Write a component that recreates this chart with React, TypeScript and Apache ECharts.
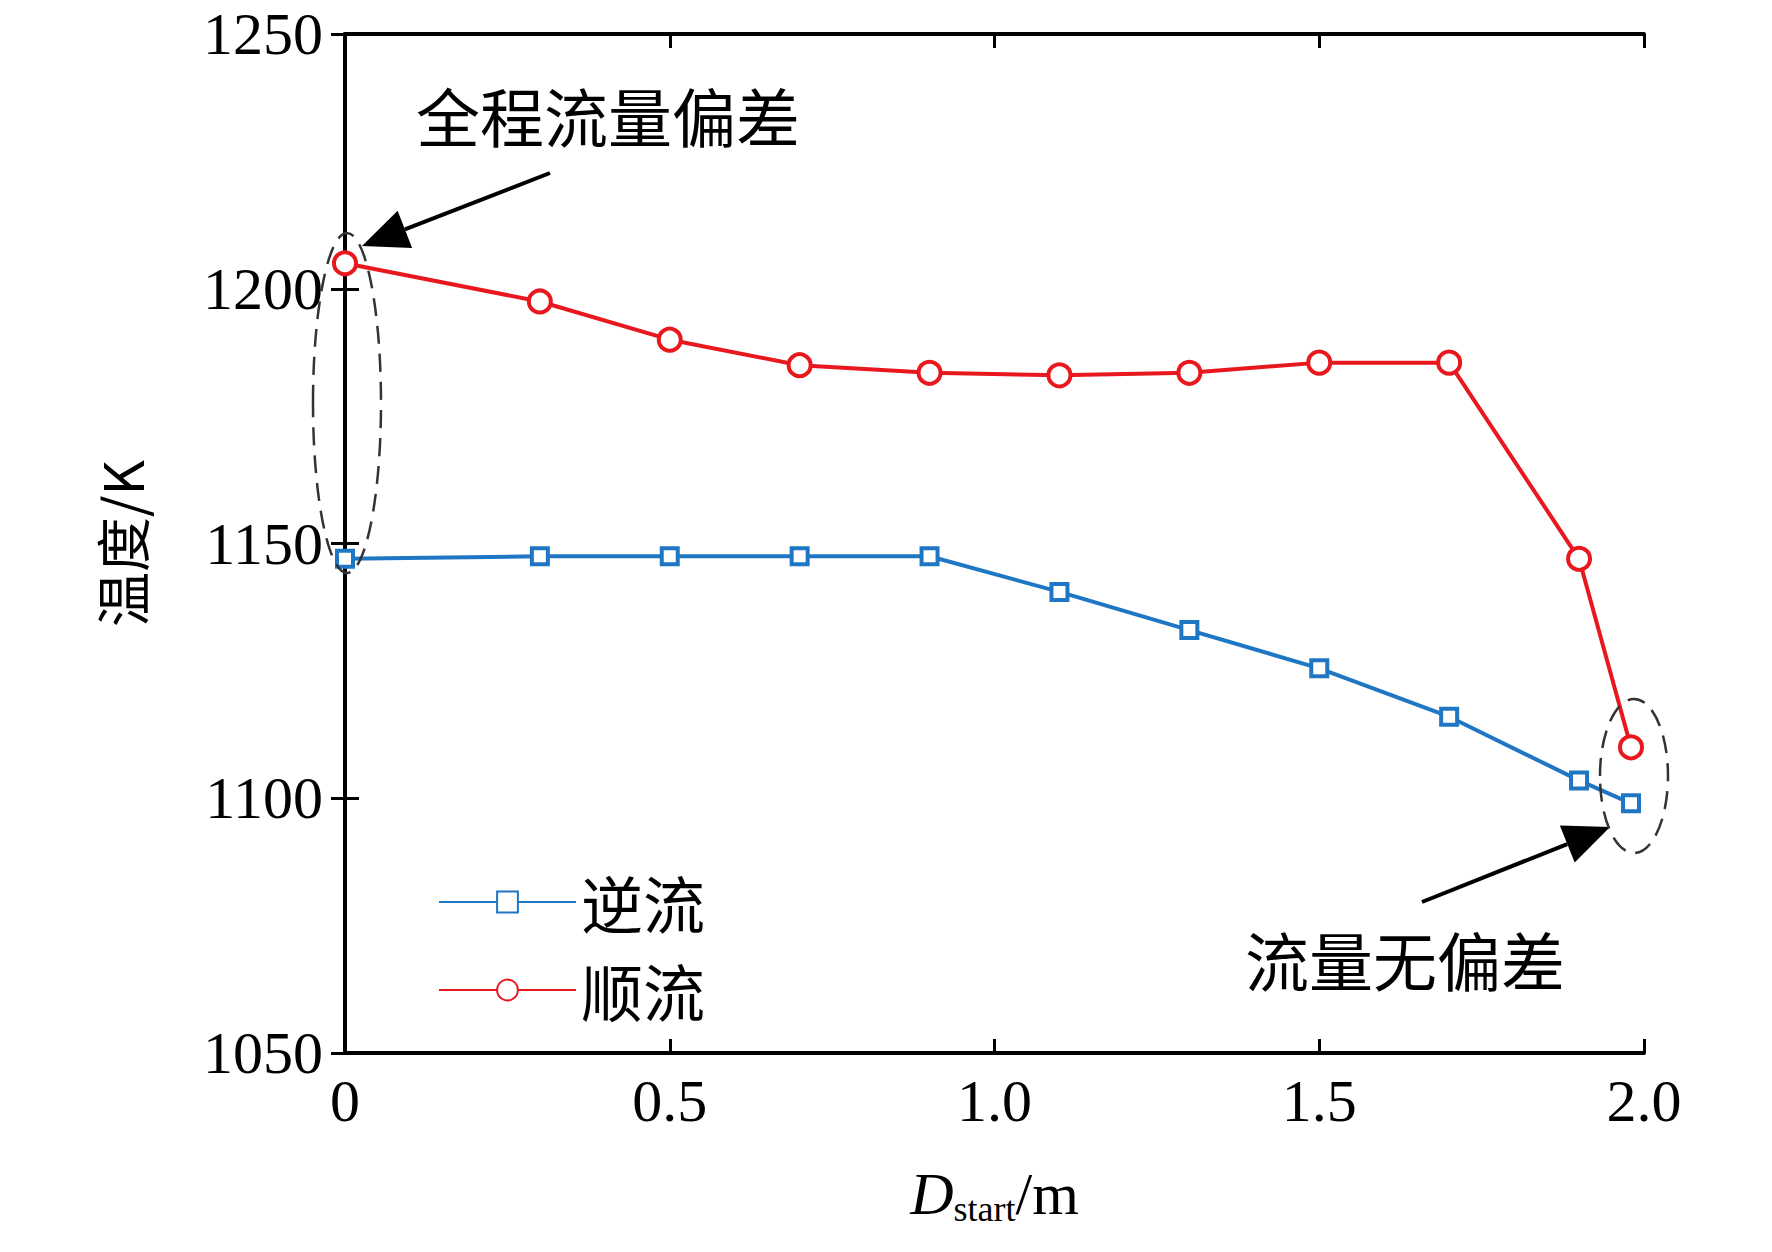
import React, { useEffect, useRef } from 'react';
import * as echarts from 'echarts';

const xValues = [0, 0.3, 0.5, 0.7, 0.9, 1.1, 1.3, 1.5, 1.7, 1.9, 1.98];
const shunliu = [1205, 1197.5, 1190, 1185, 1183.5, 1183, 1183.5, 1185.5, 1185.5, 1147, 1110];
const niliu = [1147, 1147.5, 1147.5, 1147.5, 1147.5, 1140.5, 1133, 1125.5, 1116, 1103.5, 1099];

const serif = 'Liberation Serif, Noto Serif CJK SC, Noto Sans CJK SC, serif';
const cjk = 'Noto Sans CJK SC, sans-serif';

function arrow(x1: number, y1: number, x2: number, y2: number) {
  const a = Math.atan2(y2 - y1, x2 - x1);
  const len = 46;
  const w = 20;
  const bx = x2 - len * Math.cos(a);
  const by = y2 - len * Math.sin(a);
  const nx = -Math.sin(a) * w;
  const ny = Math.cos(a) * w;
  return [
    { type: 'line', shape: { x1, y1, x2: bx, y2: by }, style: { stroke: '#000', lineWidth: 4 } },
    {
      type: 'polygon',
      shape: { points: [[x2, y2], [bx + nx, by + ny], [bx - nx, by - ny]] },
      style: { fill: '#000' },
    },
  ];
}

export default function App() {
  const ref = useRef<HTMLDivElement>(null);

  useEffect(() => {
    if (!ref.current) return;
    const chart = echarts.init(ref.current, null, { renderer: 'svg' });
    const axisLine = { lineStyle: { color: '#000', width: 4 } };
    const axisTick = { inside: true, length: 14, lineStyle: { width: 3, color: '#000' } };
    chart.setOption({
      animation: false,
      backgroundColor: '#fff',
      grid: { left: 345, right: 1772 - 1644, top: 34, bottom: 1252 - 1053 },
      legend: {
        orient: 'vertical',
        left: 433,
        top: 866,
        itemWidth: 137,
        itemHeight: 26,
        itemGap: 26,
        textStyle: { fontSize: 62, fontFamily: cjk, color: '#000' },
        data: ['逆流', '顺流'],
      },
      xAxis: [
        {
          type: 'value',
          min: 0,
          max: 2,
          interval: 0.5,
          name: '{d|D}{s|start}{m|/m}',
          nameLocation: 'middle',
          nameGap: 108,
          nameTextStyle: {
            rich: {
              d: { fontFamily: serif, fontStyle: 'italic', fontSize: 60, color: '#000' },
              s: { fontFamily: serif, fontSize: 36, color: '#000', padding: [30, 0, 0, 0] },
              m: { fontFamily: serif, fontSize: 60, color: '#000' },
            },
          },
          axisLine,
          axisTick,
          axisLabel: {
            fontFamily: serif,
            fontSize: 60,
            color: '#000',
            margin: 18,
            formatter: (v: number) => (v === 0 ? '0' : v.toFixed(1)),
          },
          splitLine: { show: false },
        },
        {
          type: 'value',
          position: 'top',
          min: 0,
          max: 2,
          interval: 0.5,
          axisLine,
          axisTick,
          axisLabel: { show: false },
          splitLine: { show: false },
        },
      ],
      yAxis: [
        {
          type: 'value',
          min: 1050,
          max: 1250,
          interval: 50,
          name: '温度/K',
          nameLocation: 'middle',
          nameGap: 198,
          nameTextStyle: { fontFamily: cjk, fontSize: 55, color: '#000' },
          axisLine,
          axisTick,
          axisLabel: {
            fontFamily: serif,
            fontSize: 60,
            color: '#000',
            margin: 22,
            formatter: (v: number) => String(v),
          },
          splitLine: { show: false },
        },
        {
          type: 'value',
          position: 'right',
          min: 1050,
          max: 1250,
          interval: 50,
          axisLine,
          axisTick,
          axisLabel: { show: false },
          splitLine: { show: false },
        },
      ],
      series: [
        {
          name: '逆流',
          type: 'line',
          data: xValues.map((x, i) => [x, niliu[i]]),
          symbol: 'rect',
          symbolSize: 16,
          color: '#1f77c4',
          lineStyle: { width: 4, color: '#1f77c4' },
          itemStyle: { color: '#fff', borderColor: '#1f77c4', borderWidth: 4 },
        },
        {
          name: '顺流',
          type: 'line',
          data: xValues.map((x, i) => [x, shunliu[i]]),
          symbol: 'circle',
          symbolSize: 22,
          color: '#e8181e',
          lineStyle: { width: 4, color: '#e8181e' },
          itemStyle: { color: '#fff', borderColor: '#e8181e', borderWidth: 4 },
        },
      ],
      graphic: [
        {
          type: 'text',
          left: 416,
          top: 82,
          style: { text: '全程流量偏差', font: `64px ${cjk}`, fill: '#000' },
        },
        {
          type: 'text',
          left: 1245,
          top: 926,
          style: { text: '流量无偏差', font: `64px ${cjk}`, fill: '#000' },
        },
        ...arrow(550, 173, 362, 246),
        ...arrow(1422, 902, 1610, 827),
        {
          type: 'ellipse',
          shape: { cx: 347, cy: 403, rx: 34, ry: 170 },
          style: { fill: 'none', stroke: '#333', lineWidth: 2.5, lineDash: [18, 10] },
          z: 10,
        },
        {
          type: 'ellipse',
          shape: { cx: 1634, cy: 776, rx: 34, ry: 77 },
          style: { fill: 'none', stroke: '#333', lineWidth: 2.5, lineDash: [18, 10] },
          z: 10,
        },
      ],
    });
    return () => chart.dispose();
  }, []);

  return <div ref={ref} style={{ width: 1772, height: 1252, margin: -8 }} />;
}
